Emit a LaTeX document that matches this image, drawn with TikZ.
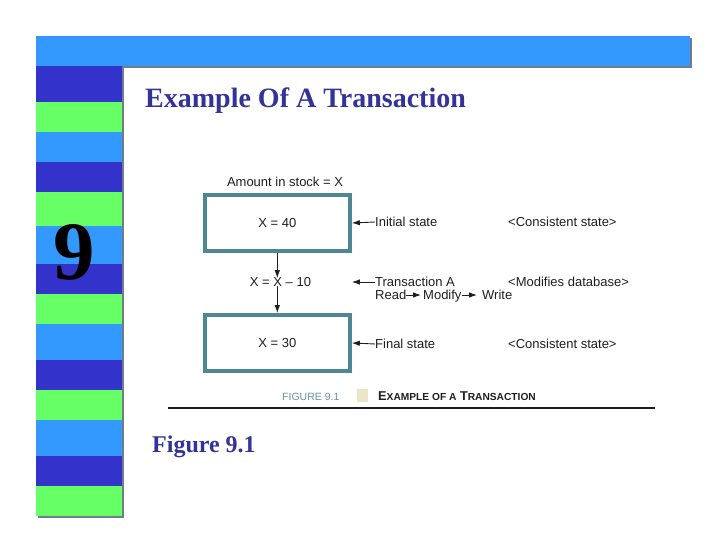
\documentclass[tikz,border=0pt]{standalone}
\usepackage{fontspec}
\setmainfont{Liberation Serif}
\setsansfont{Liberation Sans}
\usetikzlibrary{positioning}
\usetikzlibrary{arrows.meta}

\definecolor{barblue}{HTML}{3399FF}
\definecolor{stripedark}{HTML}{3333CC}
\definecolor{stripegreen}{HTML}{66FF66}
\definecolor{shadowgray}{HTML}{6F7D8E}
\definecolor{titleblue}{HTML}{333399}
\definecolor{boxteal}{HTML}{4F8694}
\definecolor{capteal}{HTML}{5F95A3}
\definecolor{capsquare}{HTML}{EDE6C6}
\definecolor{figtext}{HTML}{1E1E1E}

\tikzset{
  statebox/.style={draw=boxteal, line width=4pt, minimum width=145pt, minimum height=56pt,
    font=\sffamily\fontsize{13}{15}\selectfont, text=figtext},
  figlabel/.style={font=\sffamily\fontsize{13}{15}\selectfont, text=figtext, inner sep=0pt},
  sidelabel/.style={figlabel, anchor=west},
  steplabel/.style={figlabel, anchor=base west},
  smallarrow/.style={-{Latex[length=8pt,width=5.5pt]}, line width=0.9pt, draw=figtext}
}

\begin{document}
\begin{tikzpicture}[x=1pt, y=-1pt]
  \useasboundingbox (0,0) rectangle (720,540);
  % slide frame
  \fill[shadowgray] (38,38) rectangle (692,68);
  \fill[shadowgray] (38,68) rectangle (124,518);
  \fill[barblue] (36,36) rectangle (690,66);
  \foreach \ytop/\ybot/\col in {66/102/stripedark, 102/132/stripegreen, 132/162/barblue,
      162/192/stripedark, 192/226/stripegreen, 226/264/barblue, 264/294/stripedark,
      294/324/stripegreen, 324/360/barblue, 360/390/stripedark, 390/420/stripegreen,
      420/456/barblue, 456/486/stripedark, 486/516/stripegreen}
    \fill[\col] (36,\ytop) rectangle (122,\ybot);
  \node[inner sep=0pt, font=\fontsize{83}{85}\selectfont\bfseries] (chapter) at (74,252.5) {9};

  \node[anchor=base west, inner sep=0pt, text=titleblue, font=\fontsize{28}{32}\selectfont\bfseries]
    (title) at (145,108) {Example Of A Transaction};

  % the figure
  \node[figlabel] (amount) at (285,182) {Amount in stock = X};
  \node[statebox] (before) at (277.3,223) {X = 40};
  \node[figlabel] (change) at (280.5,282) {X = X -- 10};
  \node[statebox] (after) at (277.3,343) {X = 30};
  \draw[smallarrow] (before.south) -- ([yshift=-1pt]before.south |- change.north);
  \draw[smallarrow] ([yshift=1pt]before.south |- change.south) -- (after.north);

  \node[sidelabel] (initial) at (375,222) {Initial state};
  \node[sidelabel] (transA) at (375,282) {Transaction A};
  \node[steplabel] (read) at (375,299.5) {Read};
  \node[steplabel] (modify) at (423,299.5) {Modify};
  \node[steplabel] (write) at (482,299.5) {Write};
  \node[sidelabel] (final) at (375,344) {Final state};
  \node[sidelabel] (consA) at (508,222) {<Consistent state>};
  \node[sidelabel] (modifies) at (508,282) {<Modifies database>};
  \node[sidelabel] (consB) at (508,344) {<Consistent state>};
  \coordinate (midedge) at (before.east |- transA.west);

  \draw[smallarrow] (initial.west) -- (before.east);
  \draw[smallarrow] (transA.west) -- (midedge);
  \draw[smallarrow] (final.west) -- (after.east);
  \draw[smallarrow, shorten >=2pt] ([yshift=4.5pt]read.base east) -- ([yshift=4.5pt]modify.base west);
  \draw[smallarrow, shorten >=5pt] ([yshift=4.5pt]modify.base east) -- ([yshift=4.5pt]write.base west);

  % caption
  \node[anchor=base west, inner sep=0pt, text=capteal, font=\sffamily\fontsize{10.5}{12}\selectfont]
    (figno) at (282,400) {FIGURE 9.1};
  \fill[capsquare] (357,389) rectangle (368,402);
  \node[anchor=base west, inner sep=0pt, text=figtext, font=\sffamily\bfseries\fontsize{12.8}{14}\selectfont]
    (captitle) at (378,400) {E{\fontsize{10.2}{12}\selectfont XAMPLE OF A} T{\fontsize{10.2}{12}\selectfont RANSACTION}};
  \draw[line width=2pt, figtext] (168,408) -- (655,408);

  \node[anchor=base west, inner sep=0pt, text=titleblue, font=\fontsize{24}{28}\selectfont\bfseries]
    (figref) at (152,452) {Figure 9.1};
\end{tikzpicture}
\end{document}
